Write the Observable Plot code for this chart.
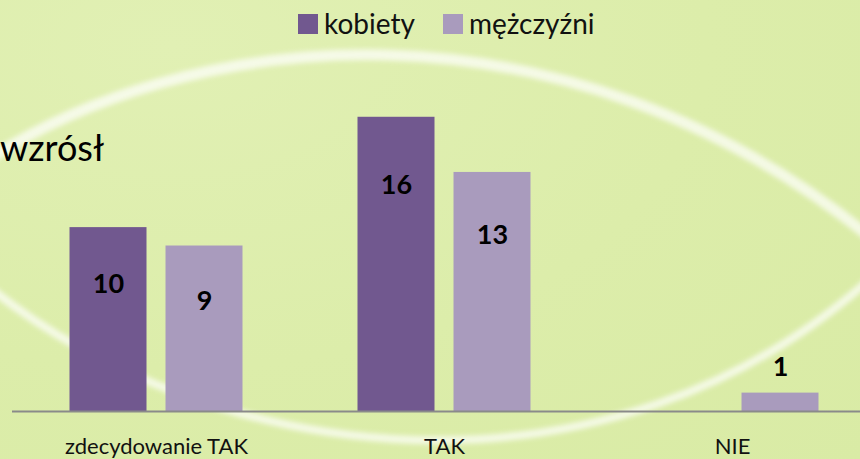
<!DOCTYPE html>
<html>
<head>
<meta charset="utf-8">
<script src="https://cdn.jsdelivr.net/npm/d3@7"></script>
<script src="https://cdn.jsdelivr.net/npm/@observablehq/plot@0.6"></script>
<style>
  html, body { margin: 0; padding: 0; }
  #wrap {
    position: relative; width: 860px; height: 459px; overflow: hidden;
    background: radial-gradient(ellipse at 20% 10%, #e1f0b4 0%, #dcedaa 55%, #d9eba5 100%);
    font-family: Lato, "Open Sans", sans-serif;
  }
  #deco { position: absolute; left: 0; top: 0; }
  #chart { position: absolute; left: 0; top: 0; }
  #legend { position: absolute; left: 298px; top: 4px; display: flex; align-items: center; font-size: 28px; color: #111; line-height: 38px; }
  #legend .item { display: flex; align-items: center; margin-right: 28px; }
  #legend .sw { width: 20px; height: 20px; margin-right: 6px; margin-top: 2px; }
  #title { position: absolute; left: 0px; top: 126px; font-size: 36px; color: #000; line-height: 42px; }
</style>
</head>
<body>
<div id="wrap">
  <svg id="deco" width="860" height="459">
    <defs><filter id="bl"><feGaussianBlur stdDeviation="2.4"/></filter></defs>
    <g fill="none" stroke="#ffffff" stroke-linecap="round" filter="url(#bl)" opacity="0.7">
      <path d="M -20,165 C 180,30 560,-20 880,245" stroke-width="11"/>
      <path d="M -20,280 C 210,470 610,520 880,270" stroke-width="8"/>
    </g>
  </svg>
  <div id="chart"></div>
  <div id="legend"></div>
  <div id="title">wzrósł</div>
</div>
<script>
// ---- data ----
const categories = ["zdecydowanie TAK", "TAK", "NIE"];
const series = ["kobiety", "mężczyźni"];
const kobiety = [10, 16, 0];
const mezczyzni = [9, 13, 1];
const colors = ["#71588f", "#a99bbd"];

const data = [];
categories.forEach((c, i) => {
  data.push({cat: c, series: series[0], value: kobiety[i]});
  data.push({cat: c, series: series[1], value: mezczyzni[i]});
});

// legend
const legend = document.getElementById("legend");
series.forEach((s, i) => {
  const it = document.createElement("div");
  it.className = "item";
  const sw = document.createElement("span");
  sw.className = "sw";
  sw.style.background = colors[i];
  const t = document.createElement("span");
  t.textContent = s;
  it.appendChild(sw); it.appendChild(t);
  legend.appendChild(it);
});

const chart = Plot.plot({
  width: 860,
  height: 459,
  marginTop: 80,
  marginBottom: 48,
  marginLeft: 11.5,
  marginRight: -15.5,
  style: {background: "transparent", fontFamily: "Lato, 'Open Sans', sans-serif", fontSize: "22px", color: "#111", overflow: "hidden"},
  fx: {domain: categories, paddingInner: 0, paddingOuter: 0, label: null, axis: "bottom", tickSize: 0, tickPadding: 27},
  x: {domain: series, paddingInner: 0.198, paddingOuter: 0.599, axis: null},
  y: {domain: [0, 18], axis: null},
  color: {domain: series, range: colors},
  marks: [
    Plot.barY(data.filter(d => d.value > 0), {fx: "cat", x: "series", y: "value", fill: "series"}),
    Plot.ruleY([0], {stroke: "#8a8a8a", strokeWidth: 2}),
    Plot.text(data.filter(d => d.value > 0), {
      fx: "cat", x: "series",
      y: d => d.value >= 5 ? d.value * 0.9 - 2.1 : d.value + 1.4,
      text: d => String(d.value),
      fontWeight: "bold", fontSize: 27, fill: "#000"
    })
  ]
});
document.getElementById("chart").appendChild(chart);
</script>
</body>
</html>
